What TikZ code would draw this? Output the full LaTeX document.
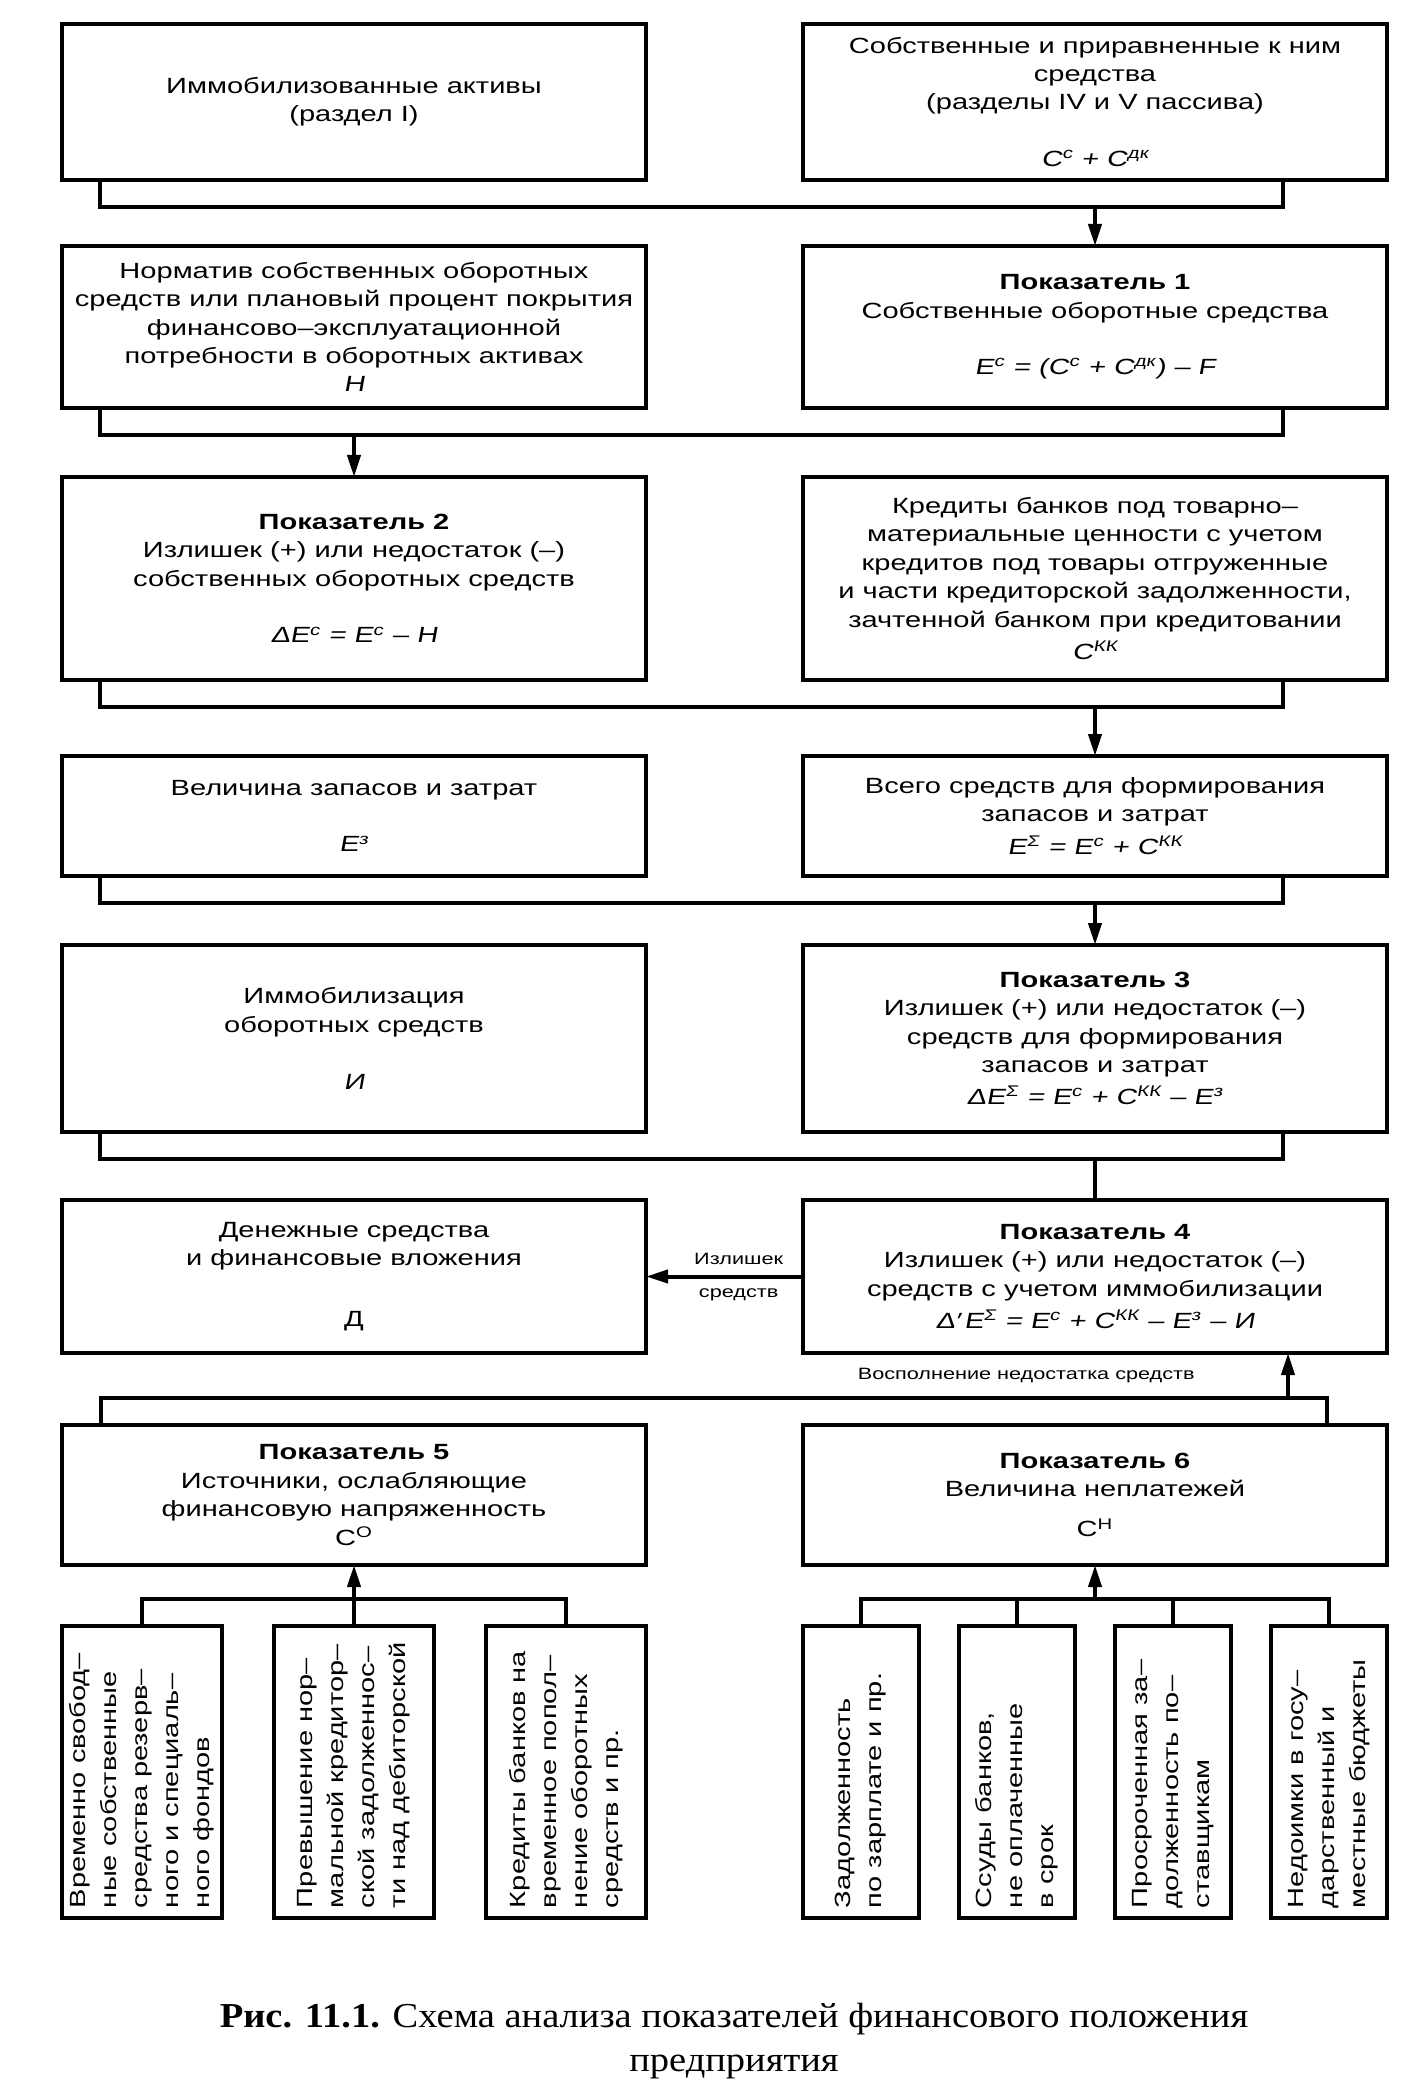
\documentclass[tikz,border=0pt]{standalone}
\usepackage{fontspec}
\usepackage{graphicx}
\setmainfont{Liberation Sans}
\newfontfamily\boxfont[FakeStretch=1.32]{Liberation Sans}
\newfontfamily\fmlfont[FakeStretch=1.32,FakeSlant=0.18]{Liberation Sans}
\newfontfamily\capfont[FakeStretch=1.1]{Liberation Serif}
\usetikzlibrary{arrows.meta,positioning,calc}
\tikzset{
  block/.style={draw, line width=2pt, minimum width=292pt, align=center,
    inner sep=3pt, outer sep=0pt, font=\boxfont\fontsize{11}{14.2}\selectfont},
  source/.style={draw, line width=2pt, minimum height=146pt, inner sep=0pt,
    outer sep=0pt, font=\boxfont\fontsize{11}{15.5}\selectfont},
  wire/.style={line width=2pt},
  feed/.style={wire, -{Triangle[length=11pt,width=6.5pt]}},
  note/.style={font=\boxfont\fontsize{8.2}{10}\selectfont, inner sep=2pt},
}
\newcommand{\pok}[1]{\textbf{Показатель #1}}
\newcommand{\fml}[1]{{\fmlfont #1}}
\newcommand{\idx}[2]{#1\textsuperscript{#2}}
\newcommand{\vtext}[1]{\rotatebox{90}{\parbox{136pt}{\raggedright #1}}}

\begin{document}
\begin{tikzpicture}
\useasboundingbox (0,0) rectangle (708.5pt,-1048pt);

\node[block, minimum height=78pt, anchor=north west] (immob) at (31pt,-12pt) {Иммобилизованные активы\\(раздел I)};
\node[block, minimum height=78pt, right=78.5pt of immob] (own) {Собственные и приравненные к ним\\средства\\(разделы IV и V пассива)\\[14.2pt]\fml{\idx{C}{с} + \idx{C}{дк}}};

\node[block, minimum height=81pt, below=33pt of immob] (norm) {Норматив собственных оборотных\\средств или плановый процент покрытия\\финансово–эксплуатационной\\потребности в оборотных активах\\\fml{H}};
\node[block, minimum height=81pt, right=78.5pt of norm] (ind1) {\pok{1}\\Собственные оборотные средства\\[14.2pt]\fml{\idx{E}{с} = (\idx{C}{с} + \idx{C}{дк}) – F}};

\node[block, minimum height=101.5pt, below=34.5pt of norm] (ind2) {\pok{2}\\Излишек (+) или недостаток (–)\\собственных оборотных средств\\[14.2pt]\fml{Δ\idx{E}{с} = \idx{E}{с} – H}};
\node[block, minimum height=101.5pt, right=78.5pt of ind2] (credit) {Кредиты банков под товарно–\\материальные ценности с учетом\\кредитов под товары отгруженные\\и части кредиторской задолженности,\\зачтенной банком при кредитовании\\[2pt]\fml{\idx{C}{КК}}};

\node[block, minimum height=60pt, below=38pt of ind2] (stock) {Величина запасов и затрат\\[14.2pt]\fml{\idx{E}{з}}};
\node[block, minimum height=60pt, right=78.5pt of stock] (total) {Всего средств для формирования\\запасов и затрат\\[2pt]\fml{\idx{E}{Σ} = \idx{E}{с} + \idx{C}{КК}}};

\node[block, minimum height=93.5pt, below=34.5pt of stock] (immcur) {Иммобилизация\\оборотных средств\\[14.2pt]\fml{И}};
\node[block, minimum height=93.5pt, right=78.5pt of immcur] (ind3) {\pok{3}\\Излишек (+) или недостаток (–)\\средств для формирования\\запасов и затрат\\[2pt]\fml{Δ\idx{E}{Σ} = \idx{E}{с} + \idx{C}{КК} – \idx{E}{з}}};

\node[block, minimum height=76.5pt, below=34pt of immcur] (cash) {Денежные средства\\и финансовые вложения\\[16pt]Д};
\node[block, minimum height=76.5pt, right=78.5pt of cash] (ind4) {\pok{4}\\Излишек (+) или недостаток (–)\\средств с учетом иммобилизации\\[2pt]\fml{Δ′\,\idx{E}{Σ} = \idx{E}{с} + \idx{C}{КК} – \idx{E}{з} – И}};

\node[block, minimum height=70pt, below=36pt of cash] (ind5) {\pok{5}\\Источники, ослабляющие\\финансовую напряженность\\С\textsuperscript{О}};
\node[block, minimum height=70pt, right=78.5pt of ind5] (ind6) {\pok{6}\\Величина неплатежей\\[6pt]С\textsuperscript{Н}};

% brackets between the rows
\draw[wire] ([xshift=19pt]immob.south west) -- ++(0,-13.5pt) coordinate (j1) -| ([xshift=-52pt]own.south east);
\draw[feed] (j1 -| own.south) -- (ind1.north);
\draw[wire] ([xshift=19pt]norm.south west) -- ++(0,-13.5pt) coordinate (j2) -| ([xshift=-52pt]ind1.south east);
\draw[feed] (j2 -| norm.south) -- (ind2.north);
\draw[wire] ([xshift=19pt]ind2.south west) -- ++(0,-13.5pt) coordinate (j3) -| ([xshift=-52pt]credit.south east);
\draw[feed] (j3 -| credit.south) -- (total.north);
\draw[wire] ([xshift=19pt]stock.south west) -- ++(0,-13.5pt) coordinate (j4) -| ([xshift=-52pt]total.south east);
\draw[feed] (j4 -| total.south) -- (ind3.north);
\draw[wire] ([xshift=19pt]immcur.south west) -- ++(0,-13.5pt) coordinate (j5) -| ([xshift=-52pt]ind3.south east);
\draw[wire] (j5 -| ind3.south) -- (ind4.north);

\draw[feed] (ind4.west) -- (cash.east)
  node[note, pos=0.41, above=3pt] (surplus) {Излишек}
  node[note, pos=0.41, below=3pt] (surplus2) {средств};

% sources 5 and 6 feed indicator 4
\draw[wire] ([xshift=19.5pt]ind5.north west) -- ++(0,13.5pt) coordinate (j6) -| ([xshift=-30pt]ind6.north east);
\coordinate (up) at ([xshift=-49.5pt]ind4.south east);
\draw[feed] (j6 -| up) -- (up);
\coordinate (mid) at ($(up)+(0,-11.25pt)$);
\node[note, left=44.5pt of mid] (refill) {Восполнение недостатка средств};

% sources of indicator 5
\node[source, minimum width=80pt, below=30.5pt of ind5] (s2) {\vtext{Превышение нор–\\мальной кредитор–\\ской задолженнос–\\ти над дебиторской}};
\node[source, minimum width=80pt, left=26pt of s2] (s1) {\vtext{Временно свобод–\\ные собственные\\средства резерв–\\ного и специаль–\\ного фондов}};
\node[source, minimum width=80pt, right=26pt of s2] (s3) {\vtext{Кредиты банков на\\временное попол–\\нение оборотных\\средств и пр.}};
\draw[feed] (s2.north) -- (ind5.south);
\draw[wire] (s1.north) -- ++(0,13.5pt) -| (s3.north);

% sources of indicator 6
\node[source, minimum width=58pt, below=30.5pt of ind6.south west, anchor=north west] (r1) {\vtext{Задолженность\\по зарплате и пр.}};
\node[source, minimum width=58pt, right=20pt of r1] (r2) {\vtext{Ссуды банков,\\не оплаченные\\в срок}};
\node[source, minimum width=58pt, right=20pt of r2] (r3) {\vtext{Просроченная за–\\долженность по–\\ставщикам}};
\node[source, minimum width=58pt, right=20pt of r3] (r4) {\vtext{Недоимки в госу–\\дарственный и\\местные бюджеты}};
\draw[wire] (r1.north) -- ++(0,13.5pt) coordinate (j8) -| (r4.north);
\draw[wire] (r2.north) -- (r2.north |- j8);
\draw[wire] (r3.north) -- (r3.north |- j8);
\draw[feed] (j8 -| ind6.south) -- (ind6.south);

\node[font=\capfont\fontsize{17.5}{22}\selectfont, align=center] (caption) at (367pt,-1020.5pt) {\textbf{Рис. 11.1.} Схема анализа показателей финансового положения\\предприятия};
\end{tikzpicture}
\end{document}
